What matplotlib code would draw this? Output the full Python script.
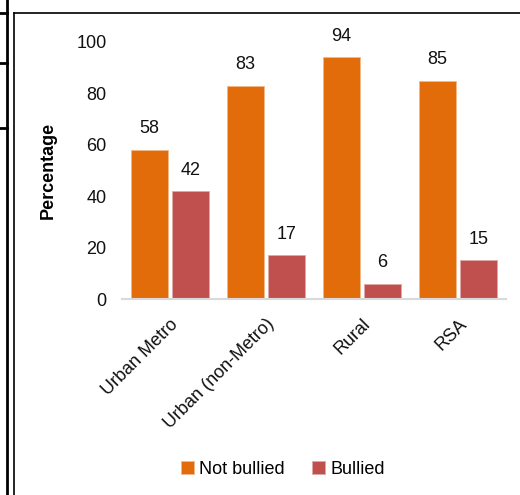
import matplotlib
matplotlib.use("Agg")
import matplotlib.pyplot as plt
from matplotlib.lines import Line2D
import numpy as np

plt.rcParams['font.family'] = ['Liberation Sans', 'DejaVu Sans']

categories = ["Urban Metro", "Urban (non-Metro)", "Rural", "RSA"]
not_bullied = [58, 83, 94, 85]
bullied = [42, 17, 6, 15]
series_names = ["Not bullied", "Bullied"]
colors = ["#E36C0A", "#C0504D"]

W, H = 520, 495
fig = plt.figure(figsize=(W / 100, H / 100), dpi=100)
ax = fig.add_axes([122 / W, 1 - 299 / H, (506 - 122) / W, (299 - 42) / H])

x = np.arange(len(categories))
bw = 0.385
gap = 0.04
pos1 = x - (bw + gap) / 2
pos2 = x + (bw + gap) / 2
b1 = ax.bar(pos1, not_bullied, bw, color=colors[0], edgecolor="#F3B88A",
            linewidth=0.6, label=series_names[0])
b2 = ax.bar(pos2, bullied, bw, color=colors[1], edgecolor="#E0A8A6",
            linewidth=0.6, label=series_names[1])

for bars, vals in ((b1, not_bullied), (b2, bullied)):
    for rect, v in zip(bars, vals):
        ax.annotate(f"{v}", (rect.get_x() + rect.get_width() / 2, v),
                    xytext=(0, 9), textcoords="offset points",
                    ha="center", va="bottom", fontsize=13, color="#111111")

ax.set_xlim(-0.5, len(categories) - 0.5)
ax.set_ylim(0, 100)
ax.set_yticks(range(0, 101, 20))
ax.tick_params(axis="y", length=0, labelsize=13, pad=11, colors="#111111")
ax.tick_params(axis="x", length=0, labelsize=13, pad=12, colors="#111111")
ax.set_xticks(x)
ax.set_xticklabels(categories, rotation=45, ha="right", rotation_mode="anchor")

for side in ("top", "right", "left"):
    ax.spines[side].set_visible(False)
ax.spines["bottom"].set_color("#D9D9D9")
ax.spines["bottom"].set_linewidth(1.5)

ax.set_ylabel("Percentage", fontsize=13, fontweight="bold", labelpad=14)

leg = fig.legend(handles=[b1, b2], labels=series_names, loc="center",
                 bbox_to_anchor=(283 / W, 1 - 469 / H), ncol=2, frameon=False,
                 fontsize=13, handlelength=0.7, handleheight=0.7,
                 handletextpad=0.3, columnspacing=1.5)

# surrounding frame lines
def px_line(x0, y0, x1, y1, lw):
    fig.add_artist(Line2D([x0 / W, x1 / W], [1 - y0 / H, 1 - y1 / H],
                          transform=fig.transFigure, color="black", linewidth=lw))

px_line(7, 0, 7, H, 2.0)
px_line(13.5, 12.5, 13.5, H, 1.2)
px_line(13.5, 12.5, W, 12.5, 1.2)
for yy in (13, 63, 128):
    px_line(0, yy, 7, yy, 2.0)

fig.savefig("out.png", dpi=100)
